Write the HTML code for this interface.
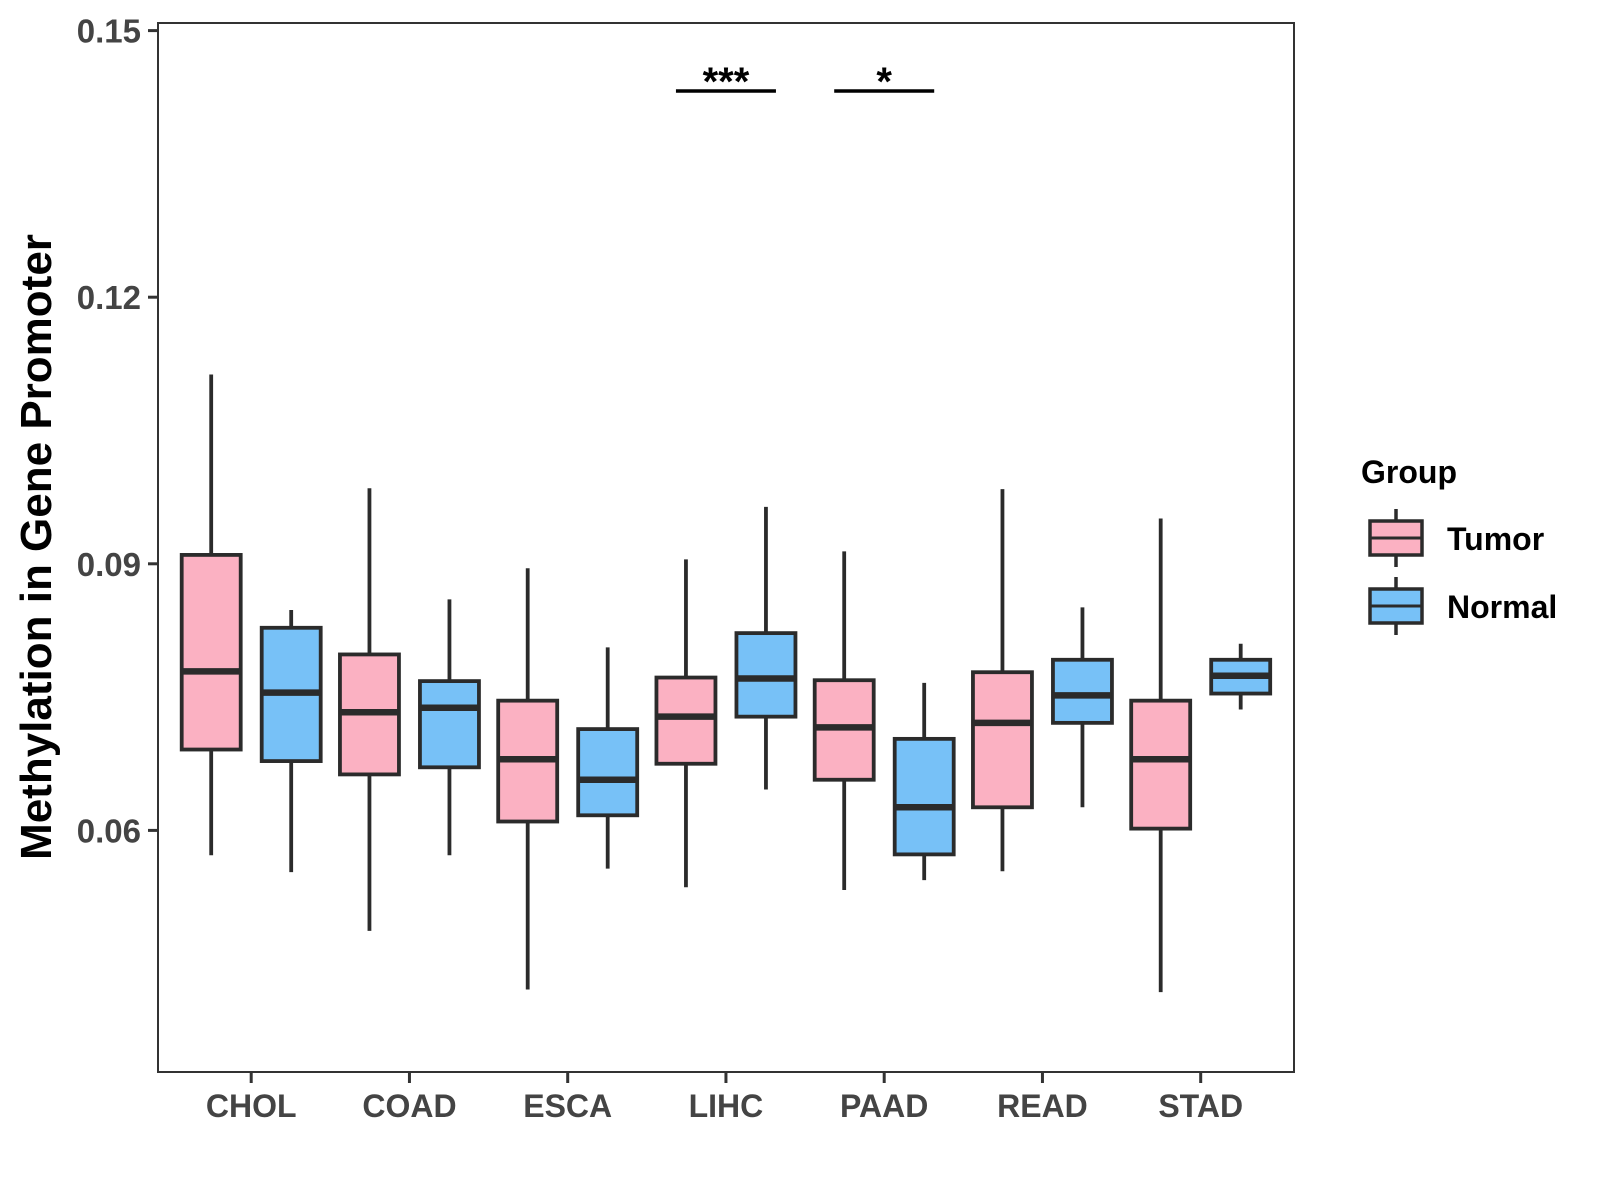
<!DOCTYPE html>
<html><head><meta charset="utf-8"><style>
body{margin:0;background:#fff}
svg{display:block;font-family:"Liberation Sans",Arial,sans-serif;font-weight:bold}
</style></head><body>
<svg id="chart" width="1600" height="1200" viewBox="0 0 1600 1200">
<rect x="0" y="0" width="1600" height="1200" fill="#fff"/>
<rect x="158" y="23" width="1136" height="1049" fill="none" stroke="#333" stroke-width="2"/>
<g id="marks"></g>
<g id="axes"></g>
<text x="51" y="547" transform="rotate(-90 51 547)" text-anchor="middle" font-size="44" fill="#000">Methylation in Gene Promoter</text>
<text x="1361" y="483" font-size="32" fill="#000">Group</text>
<g id="legend"></g>
</svg>
<script>
const categories=["CHOL","COAD","ESCA","LIHC","PAAD","READ","STAD"];
const groups=["Tumor","Normal"];
// [low, q1, median, q3, high]
const tumorStats=[[0.0572,0.0691,0.0779,0.0910,0.1113],[0.0487,0.0663,0.0733,0.0798,0.0985],[0.0421,0.0610,0.0680,0.0746,0.0895],[0.0536,0.0675,0.0728,0.0772,0.0905],[0.0533,0.0657,0.0716,0.0769,0.0914],[0.0554,0.0626,0.0721,0.0778,0.0984],[0.0418,0.0602,0.0680,0.0746,0.0951]];
const normalStats=[[0.0553,0.0678,0.0755,0.0828,0.0848],[0.0572,0.0671,0.0738,0.0768,0.0860],[0.0557,0.0617,0.0657,0.0714,0.0806],[0.0646,0.0728,0.0771,0.0822,0.0964],[0.0544,0.0573,0.0626,0.0703,0.0766],[0.0626,0.0721,0.0752,0.0792,0.0851],[0.0736,0.0754,0.0774,0.0792,0.0810]];
const yTicks=[0.06,0.09,0.12,0.15];
const yTickLabels=["0.06","0.09","0.12","0.15"];
const sigCategory=[3,4];
const sigLabels=["***","*"];
const sigValue=[0.1432,0.1432];

const NS="http://www.w3.org/2000/svg";
function y(v){return 30.6+(0.15-v)/0.03*266.6;}
function x(i){return 251.2+i*158.25;}
const colors=["#FBB1C2","#77C1F7"];
function mk(tag,attrs,parent){const e=document.createElementNS(NS,tag);for(const k in attrs)e.setAttribute(k,attrs[k]);parent.appendChild(e);return e;}
const marks=document.getElementById('marks');
[tumorStats,normalStats].forEach((stats,g)=>{
  stats.forEach((s,i)=>{
    const cx=x(i)+(g===0?-40:40), w=59;
    const grp=mk('g',{},marks);
    
    
    mk('line',{x1:cx,x2:cx,y1:y(s[4]),y2:y(s[0]),stroke:'#2b2b2b','stroke-width':3.8},grp);
    mk('rect',{x:cx-w/2,y:y(s[3]),width:w,height:y(s[1])-y(s[3]),fill:colors[g],stroke:'#2b2b2b','stroke-width':3.8},grp);
    mk('line',{x1:cx-w/2,x2:cx+w/2,y1:y(s[2]),y2:y(s[2]),stroke:'#2b2b2b','stroke-width':6.5},grp);
  });
});
const axes=document.getElementById('axes');
yTicks.forEach((t,i)=>{
  const l=mk('line',{x1:148,x2:158,y1:y(t),y2:y(t),stroke:'#333','stroke-width':3},axes);
  
  
  const tx=mk('text',{x:141,y:y(t)+12,'text-anchor':'end','font-size':33,fill:'#444'},axes);
  tx.textContent=yTickLabels[i];
  
  
});
categories.forEach((c,i)=>{
  const l=mk('line',{x1:x(i),x2:x(i),y1:1072,y2:1083,stroke:'#333','stroke-width':3},axes);
  
  
  const tx=mk('text',{x:x(i),y:1117,'text-anchor':'middle','font-size':32,fill:'#444'},axes);
  tx.textContent=c;
  
  
});
sigCategory.forEach((ci,k)=>{
  const l=mk('line',{x1:x(ci)-50,x2:x(ci)+50,y1:y(sigValue[k]),y2:y(sigValue[k]),stroke:'#000','stroke-width':3.5},marks);
  
  
  const tx=mk('text',{x:x(ci),y:y(sigValue[k])+4,'text-anchor':'middle','font-size':40,fill:'#000'},marks);
  tx.textContent=sigLabels[k];
  
  
});
const legend=document.getElementById('legend');
groups.forEach((gname,g)=>{
  const top=521+g*68;
  const grp=mk('g',{},legend);
  
  
  mk('line',{x1:1396,x2:1396,y1:top-12,y2:top+46,stroke:'#2b2b2b','stroke-width':3.5},grp);
  mk('rect',{x:1370,y:top,width:52,height:34,fill:colors[g],stroke:'#2b2b2b','stroke-width':3.5},grp);
  mk('line',{x1:1370,x2:1422,y1:top+17,y2:top+17,stroke:'#2b2b2b','stroke-width':3},grp);
  const tx=mk('text',{x:1447,y:top+29,'font-size':32,fill:'#000'},grp);
  tx.textContent=gname;
});
</script>
</body></html>
